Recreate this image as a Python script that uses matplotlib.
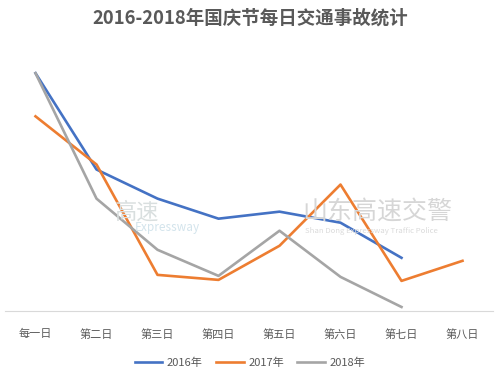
import matplotlib
matplotlib.use("Agg")
import matplotlib.pyplot as plt

plt.rcParams['font.family'] = ['Noto Sans CJK SC', 'DejaVu Sans']

days = ['每一日', '第二日', '第三日', '第四日', '第五日', '第六日', '第七日', '第八日']
y2016 = [237, 141, 112, 92, 99, 88, 53]
y2017 = [194, 146, 36, 31, 65, 126, 30, 50]
y2018 = [237, 112, 61, 35, 80, 34, 4]

fig = plt.figure(figsize=(5, 3.83), dpi=100)
ax = fig.add_axes([0.01, 0.188, 0.976, 0.655])

# faint watermarks behind the lines
fig.text(0.23, 0.447, '高速', fontsize=16, color='#d9dfdf', ha='left', va='center', zorder=0)
fig.text(0.27, 0.405, 'Expressway', fontsize=8.5, color='#d3e4ec', ha='left', va='center', zorder=0)
fig.text(0.605, 0.447, '山东高速交警', fontsize=18, color='#d6d6d6', ha='left', va='center', zorder=0)
fig.text(0.61, 0.398, 'Shan Dong Expressway Traffic Police', fontsize=5.6, color='#dadada',
         ha='left', va='center', zorder=0)

ax.plot(range(len(y2016)), y2016, color='#4472C4', lw=1.9, label='2016年')
ax.plot(range(len(y2017)), y2017, color='#ED7D31', lw=1.9, label='2017年')
ax.plot(range(len(y2018)), y2018, color='#A5A5A5', lw=1.9, label='2018年')

ax.set_xlim(-0.5, len(days) - 0.5)
ax.set_ylim(0, 250)
ax.set_xticks(range(len(days)))
ax.set_xticklabels(days, fontsize=8, color='#595959')
ax.tick_params(axis='x', length=0, pad=13)
ax.set_yticks([])
ax.patch.set_alpha(0)
for s in ['top', 'right', 'left']:
    ax.spines[s].set_visible(False)
ax.spines['bottom'].set_color('#d9d9d9')

fig.suptitle('2016-2018年国庆节每日交通事故统计', y=0.978, fontsize=13.3,
             fontweight='bold', color='#595959')

fig.legend(loc='center', bbox_to_anchor=(0.5, 0.052), ncol=3, frameon=False,
           fontsize=8, handlelength=2.5, columnspacing=1.2, handletextpad=0.4,
           labelcolor='#595959')

fig.savefig('out.png', dpi=100)
